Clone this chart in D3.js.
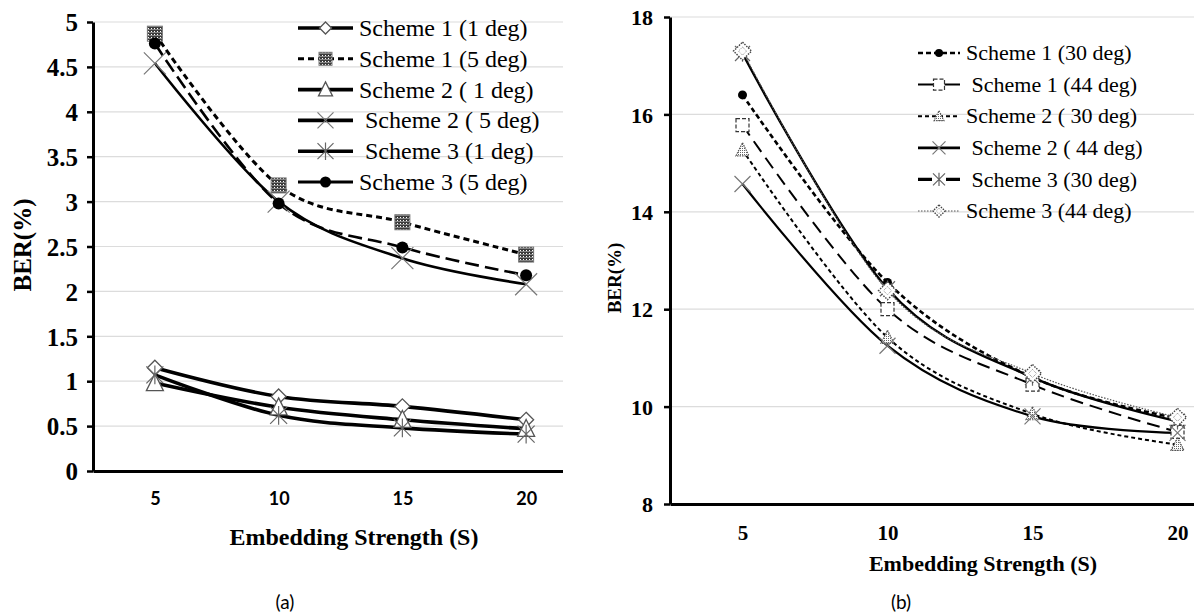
<!DOCTYPE html>
<html>
<head>
<meta charset="utf-8">
<script src="https://cdn.jsdelivr.net/npm/d3@7"></script>
<style>
  html, body { margin: 0; padding: 0; background: #fff; }
  svg { display: block; }
  text { white-space: pre; }
</style>
</head>
<body>
<svg id="fig" width="1194" height="613"></svg>
<script>
// ---- data -------------------------------------------------------------
const strengths = [5, 10, 15, 20];

// panel (a): BER (%) at small rotation angles
const aYTicks = [0, 0.5, 1, 1.5, 2, 2.5, 3, 3.5, 4, 4.5, 5];
const aScheme1Deg1 = [1.15, 0.83, 0.72, 0.57];
const aScheme1Deg5 = [4.87, 3.18, 2.77, 2.41];
const aScheme2Deg1 = [0.98, 0.71, 0.57, 0.47];
const aScheme2Deg5 = [4.54, 3.00, 2.37, 2.08];
const aScheme3Deg1 = [1.07, 0.62, 0.48, 0.41];
const aScheme3Deg5 = [4.76, 2.98, 2.49, 2.18];
const aLabels = ["Scheme 1 (1 deg)", "Scheme 1 (5 deg)", "Scheme 2 ( 1 deg)",
                 " Scheme 2 ( 5 deg)", " Scheme 3 (1 deg)", "Scheme 3 (5 deg)"];

// panel (b): BER (%) at large rotation angles
const bYTicks = [8, 10, 12, 14, 16, 18];
const bScheme1Deg30 = [16.40, 12.55, 10.60, 9.76];
const bScheme1Deg44 = [15.78, 12.00, 10.45, 9.48];
const bScheme2Deg30 = [15.27, 11.42, 9.85, 9.22];
const bScheme2Deg44 = [14.57, 11.25, 9.80, 9.46];
const bScheme3Deg30 = [17.25, 12.42, 10.60, 9.70];
const bScheme3Deg44 = [17.30, 12.38, 10.68, 9.78];
const bLabels = ["Scheme 1 (30 deg)", " Scheme 1 (44 deg)", "Scheme 2 ( 30 deg)",
                 " Scheme 2 ( 44 deg)", " Scheme 3 (30 deg)", "Scheme 3 (44 deg)"];

// ---- setup ------------------------------------------------------------
const svg = d3.select("#fig");
const SERIF = "'Liberation Serif', Tinos, 'Times New Roman', 'DejaVu Serif', serif";
const SANS = "Lato, 'Open Sans', sans-serif";
const defs = svg.append("defs");

// checkered fill for the scheme-1 5 deg squares
const chk = defs.append("pattern").attr("id", "chk").attr("patternUnits", "userSpaceOnUse")
  .attr("width", 3).attr("height", 3);
chk.append("rect").attr("width", 3).attr("height", 3).attr("fill", "#3a3a3a");
chk.append("rect").attr("x", 1).attr("y", 1).attr("width", 1).attr("height", 1).attr("fill", "#fff");
chk.append("rect").attr("x", 0).attr("y", 2).attr("width", 3).attr("height", 0.6).attr("fill", "#bbb");

// speckled fill for the scheme-2 30 deg triangles
const spk = defs.append("pattern").attr("id", "spk").attr("patternUnits", "userSpaceOnUse")
  .attr("width", 2).attr("height", 2);
spk.append("rect").attr("width", 2).attr("height", 2).attr("fill", "#fff");
spk.append("rect").attr("width", 1).attr("height", 1).attr("fill", "#666");

defs.append("clipPath").attr("id", "clipA").append("rect")
  .attr("x", 0).attr("y", 0).attr("width", 563).attr("height", 613);
defs.append("clipPath").attr("id", "clipB").append("rect")
  .attr("x", 565).attr("y", 0).attr("width", 629).attr("height", 613);

// ---- marker glyphs ----------------------------------------------------
function drawMarker(g, type, x, y, s) {
  const h = s / 2;
  switch (type) {
    case "diamond":
      g.append("path").attr("d", `M${x},${y - h}L${x + h},${y}L${x},${y + h}L${x - h},${y}Z`)
        .attr("fill", "#fff").attr("stroke", "#555").attr("stroke-width", 1.3);
      break;
    case "dotDiamond":
      g.append("path").attr("d", `M${x},${y - h}L${x + h},${y}L${x},${y + h}L${x - h},${y}Z`)
        .attr("fill", "#fff").attr("stroke", "#444").attr("stroke-width", 1.4)
        .attr("stroke-dasharray", "1.5,1.2");
      g.append("path").attr("d", `M${x},${y - h * 0.45}L${x + h * 0.45},${y}L${x},${y + h * 0.45}L${x - h * 0.45},${y}Z`)
        .attr("fill", "none").attr("stroke", "#888").attr("stroke-width", 1)
        .attr("stroke-dasharray", "1,1");
      break;
    case "chkSquare":
      g.append("rect").attr("x", x - h).attr("y", y - h).attr("width", s).attr("height", s)
        .attr("fill", "url(#chk)").attr("stroke", "#777").attr("stroke-width", 1);
      break;
    case "dashSquare":
      g.append("rect").attr("x", x - h).attr("y", y - h).attr("width", s).attr("height", s)
        .attr("fill", "#fff").attr("stroke", "#333").attr("stroke-width", 1.2)
        .attr("stroke-dasharray", "4,2");
      break;
    case "triangle":
      g.append("path").attr("d", `M${x},${y - h * 1.1}L${x + h},${y + h * 0.9}L${x - h},${y + h * 0.9}Z`)
        .attr("fill", "#fff").attr("stroke", "#555").attr("stroke-width", 1.3);
      break;
    case "dotTriangle":
      g.append("path").attr("d", `M${x},${y - h * 1.1}L${x + h},${y + h * 0.9}L${x - h},${y + h * 0.9}Z`)
        .attr("fill", "url(#spk)").attr("stroke", "#555").attr("stroke-width", 1.2)
        .attr("stroke-dasharray", "1.5,1");
      break;
    case "x":
      g.append("path").attr("d", `M${x - h},${y - h}L${x + h},${y + h}M${x - h},${y + h}L${x + h},${y - h}`)
        .attr("stroke", "#777").attr("stroke-width", 1.2).attr("fill", "none");
      break;
    case "asterisk":
      g.append("path").attr("d",
        `M${x - h},${y - h}L${x + h},${y + h}M${x - h},${y + h}L${x + h},${y - h}M${x},${y - h * 1.1}L${x},${y + h * 1.1}`)
        .attr("stroke", "#666").attr("stroke-width", 1.2).attr("fill", "none");
      break;
    case "dot":
      g.append("circle").attr("cx", x).attr("cy", y).attr("r", h).attr("fill", "#000");
      break;
  }
}

// ---- generic panel ----------------------------------------------------
function panel(cfg) {
  const x = d3.scalePoint().domain(strengths).range(cfg.xRange).padding(0.5);
  const y = d3.scaleLinear().domain(cfg.yDomain).range(cfg.yRange);
  const g = svg.append("g").attr("clip-path", `url(#${cfg.clip})`);
  const x0 = cfg.xRange[0];

  // horizontal gridlines
  g.append("g").selectAll("line").data(cfg.yTicks).join("line")
    .attr("x1", x0).attr("x2", cfg.gridEnd)
    .attr("y1", d => y(d)).attr("y2", d => y(d))
    .attr("stroke", "#dcdcdc").attr("stroke-width", 1.2);

  // y axis
  const yAxis = d3.axisLeft(y).tickValues(cfg.yTicks).tickSize(6).tickSizeOuter(0)
    .tickPadding(cfg.yPad).tickFormat(d3.format(""));
  const ya = g.append("g").attr("transform", `translate(${x0},0)`).call(yAxis);
  ya.attr("font-family", null);
  ya.select(".domain").attr("stroke", "#000").attr("stroke-width", 3);
  ya.selectAll(".tick line").attr("stroke", "#000").attr("stroke-width", 2.5);
  ya.selectAll(".tick text").attr("fill", "#000").style("font-family", SERIF)
    .style("font-weight", "bold").style("font-size", cfg.yFont + "px").attr("dy", "0.35em");

  // x axis
  const xa = g.append("g").attr("transform", `translate(0,${cfg.yRange[0]})`)
    .call(d3.axisBottom(x).tickSize(0).tickSizeOuter(0).tickPadding(cfg.xPad));
  xa.attr("font-family", null);
  xa.select(".domain").attr("stroke", "#000").attr("stroke-width", 3.2);
  xa.selectAll(".tick text").attr("fill", "#000").style("font-family", cfg.xFamily)
    .style("font-weight", "bold").style("font-size", cfg.xFont + "px");

  // smoothed series lines
  const line = d3.line().x((d, i) => x(strengths[i])).y(d => y(d))
    .curve(d3.curveCatmullRom.alpha(0));
  cfg.series.forEach(s => {
    g.append("path").attr("d", line(s.values)).attr("fill", "none")
      .attr("stroke", s.color || "#000").attr("stroke-width", s.width)
      .attr("stroke-dasharray", s.dash || null);
  });
  // markers on top
  cfg.series.forEach(s => {
    const mg = g.append("g");
    s.values.forEach((v, i) => drawMarker(mg, s.marker, x(strengths[i]), y(v), s.size));
  });

  // axis titles
  svg.append("text").attr("x", cfg.xTitlePos[0]).attr("y", cfg.xTitlePos[1])
    .attr("text-anchor", "middle").style("font-family", SERIF).style("font-weight", "bold")
    .style("font-size", cfg.xTitleFont + "px").text("Embedding Strength (S)");
  svg.append("text").attr("transform", `translate(${cfg.yTitlePos[0]},${cfg.yTitlePos[1]}) rotate(-90)`)
    .attr("text-anchor", "middle").style("font-family", SERIF).style("font-weight", "bold")
    .style("font-size", cfg.yTitleFont + "px").text("BER(%)");
  svg.append("text").attr("x", cfg.tagPos[0]).attr("y", cfg.tagPos[1])
    .attr("text-anchor", "middle").style("font-family", SANS)
    .style("font-size", "19px").text(cfg.tag);

  // legend
  const lg = svg.append("g");
  cfg.series.forEach((s, i) => {
    const ly = cfg.legend.y0 + i * cfg.legend.step;
    const L = cfg.legend;
    lg.append("line").attr("x1", L.x1).attr("x2", L.x2).attr("y1", ly).attr("y2", ly)
      .attr("stroke", s.color || "#000").attr("stroke-width", s.legendWidth || s.width)
      .attr("stroke-dasharray", s.legendDash === undefined ? (s.dash || null) : s.legendDash);
    drawMarker(lg, s.marker, (L.x1 + L.x2) / 2, ly, s.legendSize || s.size * 0.8);
    lg.append("text").attr("x", L.tx).attr("y", ly).attr("dy", "0.33em")
      .style("font-family", SERIF).style("font-size", L.font + "px").text(s.label);
  });
}

// ---- panel (a) --------------------------------------------------------
panel({
  clip: "clipA", xRange: [93, 588], gridEnd: 563,
  yDomain: [0, 5], yRange: [471, 22], yTicks: aYTicks, yFont: 25, yPad: 9,
  xFamily: SANS, xFont: 18, xPad: 21,
  xTitlePos: [354, 545], xTitleFont: 24, yTitlePos: [31, 245], yTitleFont: 25,
  tag: "(a)", tagPos: [285, 609],
  legend: { x1: 298, x2: 353, tx: 359, y0: 28, step: 30.8, font: 24 },
  series: [
    { label: aLabels[0], values: aScheme1Deg1, marker: "diamond", size: 15, width: 3.6 },
    { label: aLabels[1], values: aScheme1Deg5, marker: "chkSquare", size: 15, width: 3, dash: "6,4", legendSize: 13 },
    { label: aLabels[2], values: aScheme2Deg1, marker: "triangle", size: 17, width: 3.6, legendSize: 14 },
    { label: aLabels[3], values: aScheme2Deg5, marker: "x", size: 22, width: 2.6, legendWidth: 3.6, legendSize: 16 },
    { label: aLabels[4], values: aScheme3Deg1, marker: "asterisk", size: 17, width: 3.6, legendSize: 16 },
    { label: aLabels[5], values: aScheme3Deg5, marker: "dot", size: 12, width: 2.6, dash: "14,6",
      legendDash: null, legendWidth: 3.2, legendSize: 11 }
  ]
});

// ---- panel (b) --------------------------------------------------------
panel({
  clip: "clipB", xRange: [670, 1250], gridEnd: 1194,
  yDomain: [8, 18], yRange: [504, 17], yTicks: bYTicks, yFont: 22, yPad: 11,
  xFamily: SERIF, xFont: 21, xPad: 21,
  xTitlePos: [983, 571], xTitleFont: 22, yTitlePos: [621, 278], yTitleFont: 19,
  tag: "(b)", tagPos: [901, 609],
  legend: { x1: 918, x2: 960, tx: 966, y0: 53, step: 31.6, font: 22 },
  series: [
    { label: bLabels[0], values: bScheme1Deg30, marker: "dot", size: 9, width: 2.6, dash: "5,3", legendSize: 8 },
    { label: bLabels[1], values: bScheme1Deg44, marker: "dashSquare", size: 13, width: 2, dash: "13,7",
      legendDash: null, legendSize: 11 },
    { label: bLabels[2], values: bScheme2Deg30, marker: "dotTriangle", size: 13, width: 2, dash: "4,3", legendSize: 10 },
    { label: bLabels[3], values: bScheme2Deg44, marker: "x", size: 16, width: 2.2, legendWidth: 2.8, legendSize: 13 },
    { label: bLabels[4], values: bScheme3Deg30, marker: "asterisk", size: 15, width: 2.4, legendWidth: 3.2,
      legendDash: "14,14", legendSize: 12 },
    { label: bLabels[5], values: bScheme3Deg44, marker: "dotDiamond", size: 18, width: 1.2, dash: "1.5,1.5",
      color: "#555", legendSize: 12 }
  ]
});
</script>
</body>
</html>
